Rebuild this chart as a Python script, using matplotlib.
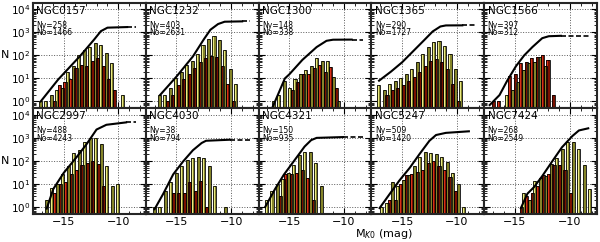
import numpy as np
import matplotlib
matplotlib.use('Agg')
import matplotlib.pyplot as plt
from matplotlib.ticker import LogLocator, MultipleLocator, NullFormatter

galaxies = ['NGC0157', 'NGC1232', 'NGC1300', 'NGC1365', 'NGC1566',
            'NGC2997', 'NGC4030', 'NGC4321', 'NGC5247', 'NGC7424']
n_young = [258, 403, 148, 290, 397, 488, 38, 150, 509, 268]
n_old = [1466, 2631, 338, 1727, 312, 4243, 794, 935, 1420, 2549]

# centre of the first 0.5 mag bin in each panel
bin_start = [-17.0, -16.45, -16.35, -17.0, -17.1, -16.45, -16.9, -16.95, -16.75, -14.55]
bin_width = 0.5

# old (olive) and young (red) cluster counts per bin
old_counts = [
    [1, 1, 2, 3, 4, 20, 35, 100, 165, 230, 340, 270, 130, 46, 0, 2],
    [2, 2, 4, 10, 19, 37, 59, 120, 290, 520, 710, 490, 170, 25, 6],
    [1, 2, 8, 4, 9, 15, 24, 33, 75, 60, 55, 11, 1],
    [5, 3, 6, 8, 10, 15, 25, 50, 110, 230, 380, 420, 260, 110, 25, 8],
    [0, 0, 0, 2, 3, 7, 24, 46, 54, 88, 34, 0],
    [2, 7, 10, 26, 58, 210, 300, 640, 940, 1000, 560, 60, 8, 10],
    [1, 1, 5, 12, 30, 58, 110, 140, 150, 130, 58, 8, 0, 1],
    [2, 5, 10, 16, 30, 68, 180, 240, 240, 80, 8],
    [1, 1.5, 12, 8, 15, 25, 60, 150, 250, 220, 200, 150, 90, 30, 10, 1],
    [0, 4, 2, 14, 19, 22, 75, 130, 340, 640, 640, 340, 68, 6],
]
young_counts = [
    [0, 0, 1, 5, 7, 9, 28, 40, 33, 55, 75, 33, 9, 3, 0, 0],
    [0, 1, 2, 5, 9, 15, 29, 50, 77, 90, 84, 34, 6, 1, 0],
    [0, 0, 0, 3, 7, 15, 15, 29, 40, 20, 30, 4, 0],
    [0, 2, 3, 4, 5, 8, 12, 20, 35, 55, 70, 50, 25, 6, 1, 0],
    [1, 1, 0, 13, 15, 46, 54, 75, 88, 100, 64, 2],
    [0, 4, 10, 12, 26, 40, 64, 85, 95, 70, 8, 0, 0, 0],
    [0, 0, 0, 4, 4, 4, 12, 5, 14, 1, 0, 0, 0, 0],
    [0, 0, 3, 26, 26, 30, 42, 19, 2, 0, 0],
    [0, 2, 2, 10, 25, 28, 32, 40, 80, 100, 60, 40, 20, 5, 0, 0],
    [1, 3, 4, 8, 24, 26, 64, 68, 42, 4, 0, 0, 0, 0],
]

# cumulative number of clusters (black curve)
cum_mag = [
    [-17.1, -15.5, -13.45, -12.2, -11.6, -11.0, -9.2],
    [-16.5, -15.0, -13.5, -12.5, -11.9, -11.2, -10.6, -9.0],
    [-16.5, -15.4, -15.0, -13.8, -12.5, -11.6, -11.0, -9.3],
    [-17.1, -16.0, -15.0, -14.0, -13.0, -12.2, -11.5, -11.0, -9.5],
    [-17.3, -16.4, -15.7, -14.9, -14.15, -13.4, -12.5, -11.9, -10.8],
    [-16.55, -15.95, -15.0, -13.8, -12.9, -12.0, -11.1, -9.3],
    [-17.0, -16.2, -15.3, -14.4, -13.5, -12.7, -12.3, -10.1],
    [-17.2, -16.3, -15.5, -14.5, -13.6, -13.0, -12.5, -10.1],
    [-17.05, -16.2, -15.25, -14.3, -13.4, -12.5, -11.9, -11.0, -8.9],
    [-14.45, -13.85, -13.25, -12.5, -11.6, -10.7, -9.75, -9.15, -8.3],
]
cum_n = [
    [1, 9, 100, 500, 1130, 1600, 1700],
    [1.9, 12, 90, 500, 1300, 2300, 2900, 3000],
    [0.6, 10, 15, 64, 230, 430, 480, 486],
    [8, 20, 50, 150, 450, 1100, 1800, 2000, 2017],
    [0.7, 1.9, 8, 34, 100, 230, 560, 680, 709],
    [0.85, 6, 30, 150, 540, 2300, 3700, 4700],
    [0.8, 3.8, 26, 94, 290, 600, 750, 832],
    [1, 6, 25, 110, 420, 800, 1000, 1085],
    [0.9, 3.3, 14, 50, 200, 750, 1330, 1650, 1929],
    [0.9, 3.8, 7.3, 22, 94, 390, 1200, 2100, 2600],
]
dash_end = [-8.4, -8.3, -8.3, -8.3, -8.2, -8.4, -8.3, -8.3, None, None]

old_dark, old_light = '#85852a', '#eaea84'
young_dark, young_light = '#7a1000', '#d8301a'


def draw_bars(ax, x, h, dark, light, w=0.28):
    ax.bar(x, h - 0.1, width=w, bottom=0.1, color=dark, linewidth=0, zorder=2)
    ax.bar(x - w * 0.25, h - 0.1, width=w * 0.5, bottom=0.1, color=light,
           linewidth=0, zorder=2.1)
    ax.bar(x, h - 0.1, width=w, bottom=0.1, fill=False, edgecolor='black',
           linewidth=0.6, zorder=2.2)


fig, axes = plt.subplots(2, 5, figsize=(6, 2.42), dpi=100)
fig.subplots_adjust(left=0.055, right=0.995, top=0.988, bottom=0.116,
                    hspace=0, wspace=0)

for k, ax in enumerate(axes.flat):
    row, col = divmod(k, 5)
    old = np.array(old_counts[k], float)
    yng = np.array(young_counts[k], float)
    centers = bin_start[k] + bin_width * np.arange(len(old))
    m = old > 0
    draw_bars(ax, centers[m] - 0.125, old[m], old_dark, old_light)
    m = yng > 0
    draw_bars(ax, centers[m] + 0.125, yng[m], young_dark, young_light)

    ax.plot(cum_mag[k], cum_n[k], color='black', lw=1.5, zorder=3)
    if dash_end[k] is not None:
        ax.plot([cum_mag[k][-1], dash_end[k]], [cum_n[k][-1], cum_n[k][-1]],
                color='black', lw=1.2, dashes=(3, 1.5), zorder=3)

    ax.set_yscale('log')
    ax.set_ylim(0.5, 1.9e4)
    ax.set_xlim(-17.8, -7.5)
    ax.xaxis.set_major_locator(MultipleLocator(5))
    ax.xaxis.set_minor_locator(MultipleLocator(1))
    ax.yaxis.set_major_locator(LogLocator(base=10, numticks=10))
    ax.yaxis.set_minor_locator(LogLocator(base=10, subs=np.arange(2, 10), numticks=20))
    ax.yaxis.set_minor_formatter(NullFormatter())
    ax.tick_params(which='both', direction='in', top=True, right=True, labelsize=8,
                   pad=2)
    ax.tick_params(axis='y', labelsize=7.5)
    ax.tick_params(which='major', length=4, width=0.8)
    ax.tick_params(which='minor', length=2, width=0.6)
    ax.grid(True, which='major', ls=':', color='0.35', lw=0.7)
    for s in ax.spines.values():
        s.set_linewidth(1.5)
        s.set_color('0.15')
    if col != 0:
        ax.tick_params(labelleft=False)
    if row == 0:
        ax.tick_params(labelbottom=False)

    ax.text(0.03, 0.975, galaxies[k], transform=ax.transAxes, fontsize=7.5,
            va='top', ha='left')
    ax.text(0.03, 0.83, 'Ny=%d\nNo=%d' % (n_young[k], n_old[k]),
            transform=ax.transAxes, fontsize=5.5, va='top', ha='left',
            linespacing=0.8)

fig.text(0.002, 0.773, 'N', fontsize=8, va='center', ha='left')
fig.text(0.002, 0.335, 'N', fontsize=8, va='center', ha='left')
fig.text(0.64, 0.035, r'M$_{K0}$ (mag)', fontsize=8, va='center', ha='center')

fig.savefig('out.png', dpi=100)
